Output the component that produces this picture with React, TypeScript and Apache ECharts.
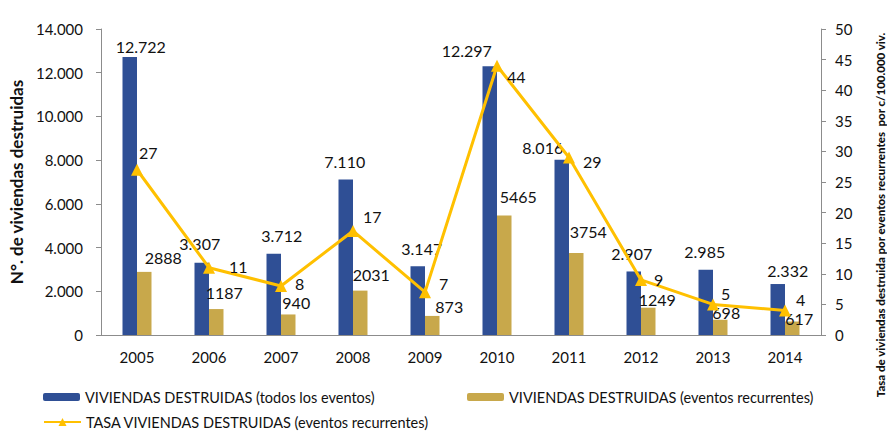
import React, { useEffect, useRef } from "react";
import * as echarts from "echarts";

const years = ["2005", "2006", "2007", "2008", "2009", "2010", "2011", "2012", "2013", "2014"];
const totalDestroyed = [12722, 3307, 3712, 7110, 3147, 12297, 8016, 2907, 2985, 2332];
const recurrentDestroyed = [2888, 1187, 940, 2031, 873, 5465, 3754, 1249, 698, 617];
const rate = [27, 11, 8, 17, 7, 44, 29, 9, 5, 4];

const nameTotal = "VIVIENDAS DESTRUIDAS (todos los eventos)";
const nameRecurrent = "VIVIENDAS DESTRUIDAS (eventos recurrentes)";
const nameRate = "TASA VIVIENDAS DESTRUIDAS (eventos recurrentes)";

// label nudges (style only, as placed in the original)
const totalLabelOffsets: [number, number][] = [
  [11, 4], [-2, -5], [8, -4], [-1, -4], [4, -4], [-23, -2], [-19, 2], [-2, -4], [-1, -4], [10, 0],
];
const recurrentLabelOffsets: [number, number][] = [
  [19, -1], [8, -4], [8, 1], [11, -3], [17, 4], [14, -6], [12, -8], [9, 5], [6, 6], [7, 10],
];
const rateLabelOffsets: [number, number][] = [
  [-14, -17], [4, -1], [-2, -3], [-6, -14], [-2, -9], [-6, 11], [-2, 4], [-3, 0], [-8, -11], [-5, -11],
];

const FONT = "Lato, 'Noto Sans', sans-serif";

const fmtDot = (v: number) => String(v).replace(/\B(?=(\d{3})+(?!\d))/g, ".");

export default function App() {
  const ref = useRef<HTMLDivElement>(null);
  useEffect(() => {
    if (!ref.current) return;
    const chart = echarts.init(ref.current, undefined, { renderer: "svg" });
    const labelBase = { fontFamily: FONT, fontSize: 16, color: "#111" };
    const legendText = { fontFamily: FONT, fontSize: 14.5, color: "#111", lineHeight: 16 };
    chart.setOption({
      animation: false,
      textStyle: { fontFamily: FONT },
      grid: { left: 100, right: 66, top: 29, bottom: 99 },
      legend: [
        {
          left: 43,
          top: 389,
          padding: 0,
          itemWidth: 37,
          itemHeight: 8,
          itemGap: 0,
          data: [nameTotal],
          textStyle: legendText,
        },
        {
          left: 467,
          top: 389,
          padding: 0,
          itemWidth: 37,
          itemHeight: 8,
          itemGap: 0,
          data: [nameRecurrent],
          textStyle: legendText,
        },
        {
          left: 43,
          top: 414,
          padding: 0,
          itemWidth: 37,
          itemHeight: 10,
          data: [nameRate],
          textStyle: legendText,
        },
      ],
      xAxis: {
        type: "category",
        data: years,
        axisLine: { lineStyle: { color: "#8c8c8c", width: 1 } },
        axisTick: { show: false },
        axisLabel: { fontFamily: FONT, fontSize: 15, color: "#111", margin: 14 },
      },
      yAxis: [
        {
          type: "value",
          min: 0,
          max: 14000,
          interval: 2000,
          name: "N°. de viviendas destruidas",
          nameLocation: "middle",
          nameGap: 76,
          nameTextStyle: { fontFamily: FONT, fontSize: 17, fontWeight: "bold", color: "#111" },
          axisLine: { show: true, lineStyle: { color: "#8c8c8c" } },
          axisTick: { show: true, length: 5, lineStyle: { color: "#8c8c8c" } },
          splitLine: { show: false },
          axisLabel: { fontFamily: FONT, fontSize: 15, color: "#111", margin: 18, formatter: (v: number) => fmtDot(v) },
        },
        {
          type: "value",
          min: 0,
          max: 50,
          interval: 5,
          axisLine: { show: true, lineStyle: { color: "#8c8c8c" } },
          axisTick: { show: true, length: 5, lineStyle: { color: "#8c8c8c" } },
          splitLine: { show: false },
          axisLabel: { fontFamily: FONT, fontSize: 15, color: "#111", margin: 14 },
        },
      ],
      graphic: [
        {
          type: "text",
          x: 880,
          y: 215,
          rotation: Math.PI / 2,
          style: {
            text: "Tasa de viviendas destruida por eventos recurrentes  por c/100.000 viv.",
            fontFamily: FONT,
            fontSize: 11.5,
            fontWeight: 900,
            fill: "#111",
            align: "center",
            verticalAlign: "middle",
          },
        },
      ],
      series: [
        {
          name: nameTotal,
          type: "bar",
          yAxisIndex: 0,
          barWidth: 14.5,
          barGap: "0%",
          itemStyle: { color: "#2F4F95" },
          data: totalDestroyed.map((v, i) => ({
            value: v,
            label: { offset: totalLabelOffsets[i] },
          })),
          label: {
            show: true,
            position: "top",
            distance: 6,
            ...labelBase,
            formatter: (p: any) => fmtDot(p.value),
          },
        },
        {
          name: nameRecurrent,
          type: "bar",
          yAxisIndex: 0,
          barWidth: 14.5,
          barGap: "0%",
          itemStyle: { color: "#C8A84B" },
          data: recurrentDestroyed.map((v, i) => ({
            value: v,
            label: { offset: recurrentLabelOffsets[i] },
          })),
          label: {
            show: true,
            position: "top",
            distance: 5,
            ...labelBase,
          },
        },
        {
          name: nameRate,
          type: "line",
          yAxisIndex: 1,
          symbol: "triangle",
          symbolSize: 12,
          lineStyle: { color: "#FFC000", width: 3 },
          itemStyle: { color: "#FFC000" },
          data: rate.map((v, i) => ({ value: v, label: { offset: rateLabelOffsets[i] } })),
          label: {
            show: true,
            position: "right",
            distance: 10,
            ...labelBase,
          },
          z: 5,
        },
      ],
    });
    return () => chart.dispose();
  }, []);
  return <div ref={ref} style={{ position: "absolute", left: 0, top: 0, width: 887, height: 434 }} />;
}
